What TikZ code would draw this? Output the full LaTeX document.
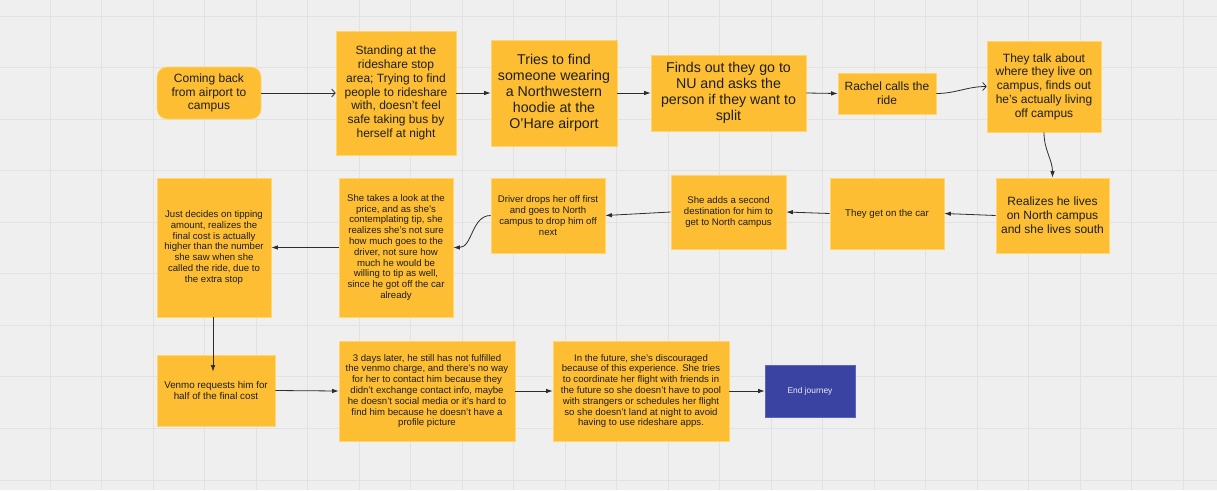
\documentclass[tikz,border=0pt]{standalone}
\usepackage{fontspec}
\setmainfont{Liberation Sans}
\usetikzlibrary{arrows.meta,calc}

\definecolor{canvas}{RGB}{239,239,239}
\definecolor{gridcol}{RGB}{226,226,226}
\definecolor{sticky}{RGB}{253,190,52}
\definecolor{stickyedge}{RGB}{255,214,110}
\definecolor{endfill}{RGB}{58,67,161}
\definecolor{endedge}{RGB}{90,100,190}
\definecolor{ink}{RGB}{30,30,30}
\definecolor{wire}{RGB}{45,45,45}

\tikzset{
  gridline/.style={draw=gridcol, line width=0.9pt},
  card/.style={draw=stickyedge, fill=sticky, line width=0.6pt, inner sep=0pt,
               align=center, text=ink},
  bigtext/.style={font=\fontsize{14.2}{16}\selectfont},
  midtext/.style={font=\fontsize{12}{13.8}\selectfont},
  smalltext/.style={font=\fontsize{9.6}{10.8}\selectfont},
  flow/.style={draw=wire, line width=0.8pt, -{Latex[length=6.5pt,width=4.5pt]}},
  openflow/.style={draw=wire, line width=0.8pt, -{Straight Barb[length=3.5pt,width=8pt]}},
}

\begin{document}
\begin{tikzpicture}[x=1pt,y=-1pt]
\useasboundingbox (0,0) rectangle (1217,490);
% canvas with its grid
\fill[canvas] (0,0) rectangle (1217,490);
\foreach \i in {0,...,22} \draw[gridline] ({50+51.5*\i},0) -- ({50+51.5*\i},490);
\foreach \j in {0,...,9} \draw[gridline] (0,{16+51.55*\j}) -- (1217,{16+51.55*\j});

% first row
\node[card, midtext, rounded corners=10pt, minimum width=104pt, minimum height=52pt]
  (n1) at (209,93) {Coming back\\from airport to\\campus};
\node[card, midtext, minimum width=120pt, minimum height=124pt]
  (n2) at (396,93) {Standing at the\\rideshare stop\\area; Trying to find\\people to rideshare\\with, doesn't feel\\safe taking bus by\\herself at night};
\node[card, bigtext, minimum width=126pt, minimum height=106pt]
  (n3) at (554,93) {Tries to find\\someone wearing\\a Northwestern\\hoodie at the\\O'Hare airport};
\node[card, bigtext, minimum width=155pt, minimum height=76pt]
  (n4) at (728.5,93) {Finds out they go to\\NU and asks the\\person if they want to\\split};
\node[card, midtext, minimum width=98pt, minimum height=41pt]
  (n5) at (887,93.5) {Rachel calls the\\ride};
\node[card, midtext, minimum width=114pt, minimum height=91pt]
  (n6) at (1044,86.5) {They talk about\\where they live on\\campus, finds out\\he's actually living\\off campus};

% second row
\node[card, midtext, minimum width=113pt, minimum height=75pt]
  (n7) at (1052.5,215.5) {Realizes he lives\\on North campus\\and she lives south};
\node[card, font=\fontsize{9.7}{11}\selectfont, minimum width=114pt, minimum height=71pt]
  (n8) at (887,213.5) {They get on the car};
\node[card, smalltext, minimum width=115pt, minimum height=74pt]
  (n9) at (728.5,212) {She adds a second\\destination for him to\\get to North campus};
\node[card, smalltext, minimum width=114pt, minimum height=75pt]
  (n10) at (548,215.5) {Driver drops her off first\\and goes to North\\campus to drop him off\\next};
\node[card, smalltext, minimum width=114pt, minimum height=139pt]
  (n11) at (396,247.5) {She takes a look at the\\price, and as she's\\contemplating tip, she\\realizes she's not sure\\how much goes to the\\driver, not sure how\\much he would be\\willing to tip as well,\\since he got off the car\\already};
\node[card, smalltext, minimum width=114pt, minimum height=139pt]
  (n12) at (214,247.5) {Just decides on tipping\\amount, realizes the\\final cost is actually\\higher than the number\\she saw when she\\called the ride, due to\\the extra stop};

% third row
\node[card, font=\fontsize{9.8}{11.3}\selectfont, minimum width=118pt, minimum height=71pt]
  (n13) at (216,390.5) {Venmo requests him for\\half of the final cost};
\node[card, smalltext, minimum width=176pt, minimum height=100pt]
  (n14) at (427,391) {3 days later, he still has not fulfilled\\the venmo charge, and there's no way\\for her to contact him because they\\didn't exchange contact info, maybe\\he doesn't social media or it's hard to\\find him because he doesn't have a\\profile picture};
\node[card, smalltext, minimum width=176pt, minimum height=100pt]
  (n15) at (641,391) {In the future, she's discouraged\\because of this experience. She tries\\to coordinate her flight with friends in\\the future so she doesn't have to pool\\with strangers or schedules her flight\\so she doesn't land at night to avoid\\having to use rideshare apps.};
\node[draw=endedge, fill=endfill, line width=0.6pt, inner sep=0pt, text=white!90!endfill,
      font=\fontsize{8.4}{10}\selectfont, minimum width=90pt, minimum height=52pt]
  (n16) at (810,391) {End journey};

% connectors
\draw[openflow] (n1.east) -- (n2.west);
\draw[flow] (n2.east) -- (n3.west);
\draw[flow] (n3.east) -- (n4.west);
\draw[flow] (n4.east) -- (n5.west);
\draw[openflow] (n5.east) to[out=0, in=180] (n6.west);
\draw[flow] (n6.south) to[out=-90, in=90] (n7.north);
\draw[flow] (n7.west) -- (n8.east);
\draw[flow] (n8.west) -- (n9.east);
\draw[flow] (n9.west) -- (n10.east);
\draw[flow] (n10.west) to[out=180, in=0] (n11.east);
\draw[flow] (n11.west) -- (n12.east);
\draw[flow] ($(n12.south)+(-1,0)$) -- ($(n12.south |- n13.north)+(-1,17)$);
\draw[flow] (n13.east) -- (n14.west);
\draw[flow] (n14.east) -- (n15.west);
\draw[flow] (n15.east) -- (n16.west);
\end{tikzpicture}
\end{document}
